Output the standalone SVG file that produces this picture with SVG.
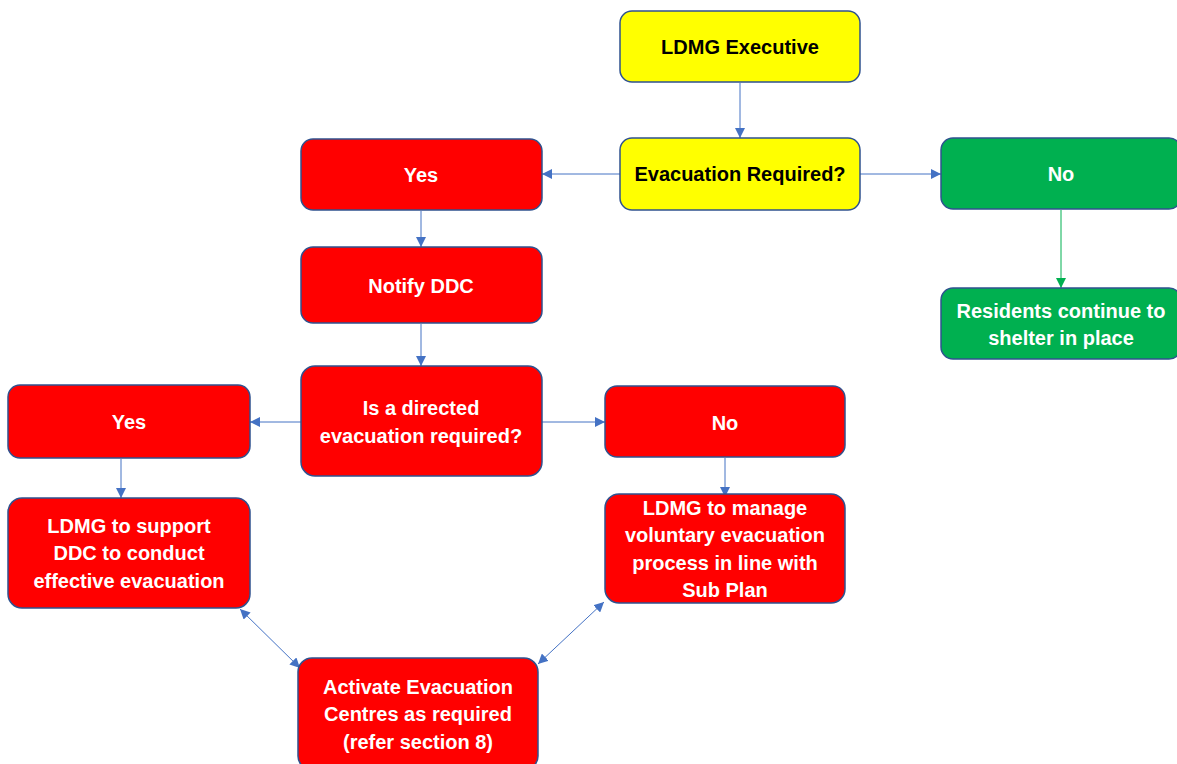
<svg xmlns="http://www.w3.org/2000/svg" width="1177" height="764" viewBox="0 0 1177 764">
<style>
.box{stroke:#2F528F;stroke-width:1.5}
.y{fill:#FFFF00}
.r{fill:#FF0000}
.g{fill:#00B050}
text{font-family:"Liberation Sans",Arial,sans-serif;font-weight:bold;font-size:20px;text-anchor:middle}
.tb{fill:#000}
.tw{fill:#fff}
.c{stroke:#4472C4;stroke-width:1;fill:none}
.cg{stroke:#00B050;stroke-width:1;fill:none}
</style>
<defs>
<marker id="a" viewBox="0 0 10 10" refX="10" refY="5" markerWidth="10" markerHeight="10" markerUnits="userSpaceOnUse" orient="auto-start-reverse"><path d="M0,0 L10,5 L0,10 z" fill="#4472C4"/></marker>
<marker id="ag" viewBox="0 0 10 10" refX="10" refY="5" markerWidth="10" markerHeight="10" markerUnits="userSpaceOnUse" orient="auto"><path d="M0,0 L10,5 L0,10 z" fill="#00B050"/></marker>
</defs>
<rect width="1177" height="764" fill="#fff"/>
<g id="connectors">
<line class="c" x1="740" y1="83" x2="740" y2="138" marker-end="url(#a)"/>
<line class="c" x1="620" y1="174" x2="542" y2="174" marker-end="url(#a)"/>
<line class="c" x1="860" y1="174" x2="941" y2="174" marker-end="url(#a)"/>
<line class="cg" x1="1061" y1="210" x2="1061" y2="288" marker-end="url(#ag)"/>
<line class="c" x1="421" y1="211" x2="421" y2="247" marker-end="url(#a)"/>
<line class="c" x1="421" y1="324" x2="421" y2="366" marker-end="url(#a)"/>
<line class="c" x1="301" y1="422" x2="250" y2="422" marker-end="url(#a)"/>
<line class="c" x1="542" y1="422" x2="605" y2="422" marker-end="url(#a)"/>
<line class="c" x1="121" y1="459" x2="121" y2="498" marker-end="url(#a)"/>
<line class="c" x1="725" y1="458" x2="725" y2="497" marker-end="url(#a)"/>
<line class="c" x1="240" y1="609" x2="300" y2="668" marker-start="url(#a)" marker-end="url(#a)"/>
<line class="c" x1="604" y1="602" x2="538" y2="664" marker-start="url(#a)" marker-end="url(#a)"/>
</g>
<g id="ldmg-executive"><rect class="box y" x="620" y="11" width="240" height="71" rx="12"/><text class="tb" x="740" y="54">LDMG Executive</text></g>
<g id="evacuation-required"><rect class="box y" x="620" y="138" width="240" height="72" rx="12"/><text class="tb" x="740" y="181">Evacuation Required?</text></g>
<g id="yes-top"><rect class="box r" x="301" y="139" width="241" height="71" rx="12"/><text class="tw" x="421" y="182">Yes</text></g>
<g id="no-green"><rect class="box g" x="941" y="138" width="240" height="71" rx="12"/><text class="tw" x="1061" y="181">No</text></g>
<g id="residents"><rect class="box g" x="941" y="288" width="240" height="71" rx="12"/><text class="tw" x="1061" y="318">Residents continue to</text><text class="tw" x="1061" y="345">shelter in place</text></g>
<g id="notify-ddc"><rect class="box r" x="301" y="247" width="241" height="76" rx="12"/><text class="tw" x="421" y="293">Notify DDC</text></g>
<g id="directed-evacuation"><rect class="box r" x="301" y="366" width="241" height="110" rx="14"/><text class="tw" x="421" y="415">Is a directed</text><text class="tw" x="421" y="443">evacuation required?</text></g>
<g id="yes-left"><rect class="box r" x="8" y="385" width="242" height="73" rx="12"/><text class="tw" x="129" y="429">Yes</text></g>
<g id="no-mid"><rect class="box r" x="605" y="386" width="240" height="71" rx="12"/><text class="tw" x="725" y="430">No</text></g>
<g id="ldmg-support"><rect class="box r" x="8" y="498" width="242" height="110" rx="14"/><text class="tw" x="129" y="533">LDMG to support</text><text class="tw" x="129" y="560">DDC to conduct</text><text class="tw" x="129" y="588">effective evacuation</text></g>
<g id="ldmg-manage"><rect class="box r" x="605" y="494" width="240" height="109" rx="14"/><text class="tw" x="725" y="515">LDMG to manage</text><text class="tw" x="725" y="542">voluntary evacuation</text><text class="tw" x="725" y="570">process in line with</text><text class="tw" x="725" y="597">Sub Plan</text></g>
<g id="activate-centres"><rect class="box r" x="298" y="658" width="240" height="112" rx="14"/><text class="tw" x="418" y="694">Activate Evacuation</text><text class="tw" x="418" y="721">Centres as required</text><text class="tw" x="418" y="749">(refer section 8)</text></g>
</svg>
